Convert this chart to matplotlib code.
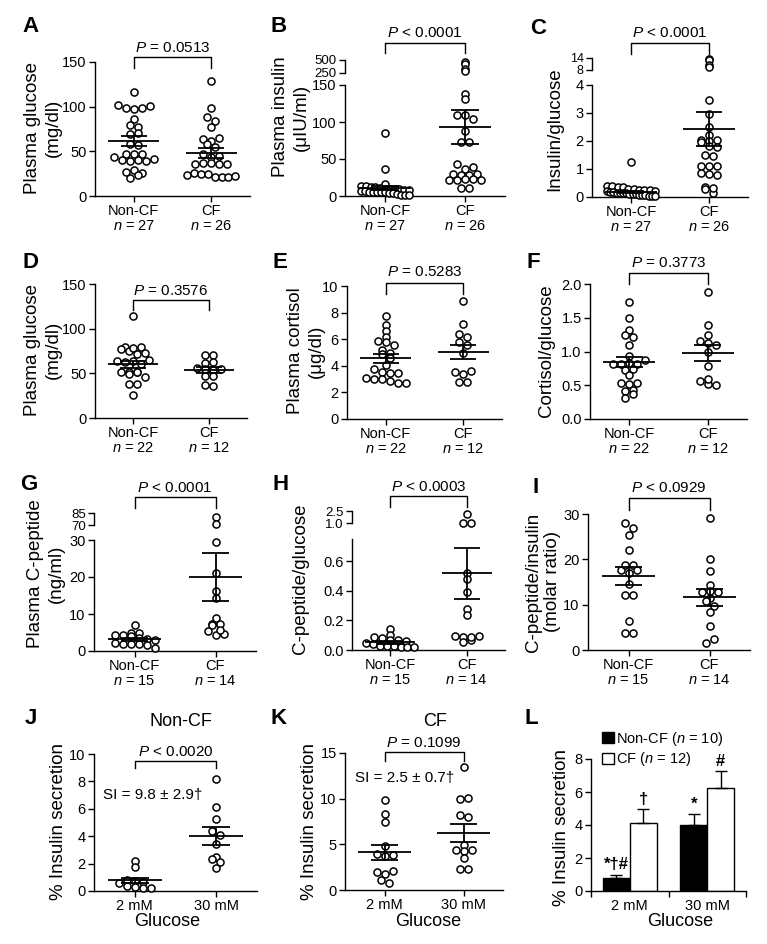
import numpy as np
import matplotlib.pyplot as plt
from matplotlib.lines import Line2D
from matplotlib.patches import Patch

plt.rcParams['font.family'] = 'Liberation Sans'
plt.rcParams['mathtext.fontset'] = 'custom'
plt.rcParams['mathtext.rm'] = 'Liberation Sans'
plt.rcParams['mathtext.it'] = 'Liberation Sans:italic'

# ---- data ----
a_noncf = [116, 102, 99, 97, 99, 101, 86, 79, 77, 69, 70, 58, 57, 47, 44, 47, 47,
           40, 39, 40, 39, 41, 27, 29, 26, 20, 23]
a_cf = [129, 99, 88, 84, 77, 64, 62, 65, 58, 55, 47, 44, 45, 36, 37, 37, 36, 36,
        24, 26, 25, 25, 21, 21, 21, 22]
a_mean, a_sem = [61.2, 48.1], [5.6, 5.5]

b_noncf = [84.5, 36, 16, 14, 13, 12, 12, 11, 10, 10, 9, 9, 8, 8, 7, 7, 6, 6, 6,
           5, 5, 4, 4, 3, 2, 2, 1]
b_cf = [470, 430, 330, 290, 138, 131, 110, 110, 104, 88, 73, 73, 43, 37, 39, 30,
        28, 29, 30, 21, 21, 23, 23, 21, 11, 11]
b_mean, b_sem = [10.8, 93.5], [3.3, 23]

c_noncf = [1.25, 0.38, 0.38, 0.36, 0.35, 0.30, 0.28, 0.26, 0.25, 0.24, 0.22, 0.2,
           0.19, 0.18, 0.16, 0.15, 0.14, 0.13, 0.12, 0.1, 0.09, 0.08, 0.07, 0.06,
           0.05, 0.04, 0.03]
c_cf = [13.5, 12.8, 10.5, 9.5, 3.45, 2.95, 2.5, 2.2, 2.05, 2.0, 1.95, 2.03, 1.82,
        1.8, 1.5, 1.48, 1.12, 1.1, 1.1, 0.85, 0.82, 0.78, 0.35, 0.3, 0.15, 0.33]
c_mean, c_sem = [0.18, 2.42], [0.05, 0.61]

d_noncf = [114, 79, 77, 75, 78, 80, 72, 73, 64, 63, 64, 60, 65, 52, 51, 52, 49,
           51, 46, 38, 38, 26]
d_cf = [70, 70, 62, 63, 56, 55, 54, 55, 47, 47, 37, 36]
d_mean, d_sem = [60, 53.5], [4.2, 3.3]

e_noncf = [7.75, 7.1, 6.6, 6.15, 5.9, 5.8, 5.55, 5.2, 5.0, 4.85, 4.55, 4.05, 3.75,
           3.5, 3.45, 3.45, 3.05, 3.0, 3.0, 2.85, 2.7, 2.7]
e_cf = [8.85, 7.15, 6.4, 6.15, 5.8, 5.6, 5.0, 3.55, 3.4, 3.6, 2.8, 2.8]
e_mean, e_sem = [4.55, 5.05], [0.33, 0.55]

f_noncf = [1.74, 1.5, 1.32, 1.25, 1.21, 1.09, 0.93, 0.82, 0.82, 0.83, 0.82, 0.87,
           0.73, 0.74, 0.65, 0.54, 0.52, 0.54, 0.42, 0.43, 0.31, 0.37]
f_cf = [1.88, 1.39, 1.25, 1.15, 1.13, 1.1, 1.0, 0.78, 0.57, 0.52, 0.51, 0.6]
f_mean, f_sem = [0.84, 0.975], [0.075, 0.12]

g_noncf = [6.9, 4.9, 4.8, 4.3, 4.2, 4.0, 3.5, 3.3, 3.0, 2.2, 2.0, 2.0, 1.8, 1.7, 0.9]
g_cf = [80, 71, 29.5, 21.1, 16.2, 14.2, 9.0, 7.2, 7.0, 7.3, 5.4, 4.2, 4.6, 5.8]
g_mean, g_sem = [3.15, 20.0], [0.45, 6.6]

h_noncf = [0.14, 0.10, 0.09, 0.08, 0.07, 0.07, 0.06, 0.05, 0.04, 0.03, 0.03,
           0.025, 0.02, 0.02, 0.02]
h_cf = [2.1, 1.05, 1.0, 0.52, 0.48, 0.39, 0.28, 0.235, 0.095, 0.09, 0.055, 0.067,
        0.09, 0.097]
h_mean, h_sem = [0.052, 0.517], [0.009, 0.175]

i_noncf = [28.1, 27.0, 25.4, 22.0, 17.7, 18.8, 18.8, 16.9, 17.7, 14.6, 12.2, 12.2,
           6.4, 3.8, 3.8]
i_cf = [29.1, 20.1, 17.5, 14.4, 12.9, 13.0, 12.9, 11.5, 10.7, 9.6, 8.3, 5.2, 1.6, 2.4]
i_mean, i_sem = [16.4, 11.6], [2.0, 1.9]

j_2mm = [2.2, 1.75, 0.8, 0.75, 0.65, 0.6, 0.4, 0.3, 0.25, 0.25]
j_30mm = [8.17, 6.1, 5.25, 4.35, 4.1, 3.4, 2.5, 2.35, 2.1, 1.7]
j_mean, j_sem = [0.78, 4.0], [0.2, 0.65]

k_2mm = [9.9, 8.3, 7.46, 4.84, 3.93, 3.75, 3.82, 2.0, 1.75, 2.07, 1.09, 0.73]
k_30mm = [13.47, 10.0, 10.1, 8.2, 8.0, 4.9, 4.37, 4.26, 4.37, 3.46, 2.26, 2.26]
k_mean, k_sem = [4.11, 6.26], [0.85, 1.0]

# panel L summarises J and K
l_groups = ['2 mM', '30 mM']
l_marks_noncf = ['*†#', '*']
l_marks_cf = ['†', '#']

W, H = 767, 944
fig = plt.figure(figsize=(W / 100, H / 100), dpi=100)


def add_ax(l, t, r, b):
    return fig.add_axes([l / W, 1 - b / H, (r - l) / W, (b - t) / H])


def style(ax):
    for s in ['top', 'right']:
        ax.spines[s].set_visible(False)
    for s in ['left', 'bottom']:
        ax.spines[s].set_linewidth(1.0)
    ax.tick_params(width=1.0, length=4, labelsize=10.5, pad=2)
    ax.patch.set_visible(False)


def rows(vals, ppu, d=8.0, h=5.0, maxhw=24.0):
    # prism-like scatter: points grouped in rows, rows squeezed if too wide
    ys = np.asarray(vals, float) * ppu
    xs = np.zeros(len(ys))
    bins = []
    for i in np.argsort(ys, kind='stable'):
        if bins and ys[i] - ys[bins[-1][0]] < h:
            bins[-1].append(i)
        else:
            bins.append([i])
    for bn in bins:
        bn = sorted(bn)
        n = len(bn)
        s = d if n == 1 else min(d, 2 * maxhw / (n - 1))
        for k, i in enumerate(bn):
            xs[i] = (k - (n - 1) / 2) * s
    return xs


def dots(ax, i, vals, yppu, xppu):
    vals = np.asarray(vals, float)
    if len(vals) == 0:
        return
    xs = rows(vals, yppu) / xppu
    ax.scatter(i + xs, vals, s=26, facecolor='white', edgecolor='black',
               linewidth=1.1, zorder=3, clip_on=False)


def dot_panel(box, groups, mean, sem, ylim, yticks, fmt, cats, top=None):
    l, t, r, b = box
    ax = add_ax(l, t, r, b)
    style(ax)
    ax.set_xlim(-0.5, 1.5)
    ax.set_ylim(*ylim)
    ax.set_yticks(yticks)
    ax.set_yticklabels([fmt % v for v in yticks])
    ax.set_xticks([0, 1])
    ax.set_xticklabels(cats, linespacing=1.1)
    xppu = (r - l) / 2
    yppu = (b - t) / (ylim[1] - ylim[0])
    if top:
        lo, hi, tt, tb, tfmt, tsize = top
        axt = add_ax(l, tt, r, tb)
        style(axt)
        axt.tick_params(labelsize=tsize)
        axt.spines['bottom'].set_visible(False)
        axt.set_xlim(-0.5, 1.5)
        axt.set_ylim(lo, hi)
        axt.set_xticks([])
        axt.set_yticks([lo, hi])
        axt.set_yticklabels([tfmt % lo, tfmt % hi])
        tppu = (tb - tt) / (hi - lo)
    for i, vals in enumerate(groups):
        v = np.asarray(vals, float)
        if top:
            dots(ax, i, v[v <= ylim[1]], yppu, xppu)
            dots(axt, i, v[v > ylim[1]], tppu * 6, xppu)
        else:
            dots(ax, i, v, yppu, xppu)
        m, s = mean[i], sem[i]
        kw = dict(color='black', lw=1.3, zorder=4, clip_on=False)
        ax.hlines(m, i - 0.33, i + 0.33, **kw)
        ax.hlines([m - s, m + s], i - 0.17, i + 0.17, **kw)
        ax.vlines(i, m - s, m + s, **kw)
    return ax


def bracket(box, text, ty, by, ly):
    l, t, r, b = box
    x0, x1 = l + 0.25 * (r - l), l + 0.75 * (r - l)
    fig.add_artist(Line2D([x0 / W, x0 / W, x1 / W, x1 / W],
                          [1 - ly / H, 1 - by / H, 1 - by / H, 1 - ly / H],
                          color='black', lw=1.0, transform=fig.transFigure))
    fig.text((x0 + x1) / 2 / W, 1 - ty / H, text, ha='center', va='center', fontsize=11)


def ylab(x, y, text, ls=1.25):
    fig.text(x / W, 1 - y / H, text, rotation=90, ha='center', va='center',
             fontsize=13.5, linespacing=ls, multialignment='center')


def letter(x, y, s):
    fig.text(x / W, 1 - y / H, s, ha='left', va='center', fontsize=16, fontweight='bold')


def cats(n1, n2):
    return ['Non-CF\n$n$ = %d' % n1, 'CF\n$n$ = %d' % n2]


# ---- row 1 ----
box = (95, 62, 250, 196)
dot_panel(box, [a_noncf, a_cf], a_mean, a_sem, (0, 150), [0, 50, 100, 150], '%d',
          cats(len(a_noncf), len(a_cf)))
bracket(box, '$P$ = 0.0513', 48, 57, 68)
ylab(43, 128, 'Plasma glucose\n(mg/dl)')
letter(22, 27, 'A')

box = (345, 85, 505, 196)
dot_panel(box, [b_noncf, b_cf], b_mean, b_sem, (0, 150), [0, 50, 100, 150], '%d',
          cats(len(b_noncf), len(b_cf)), top=(250, 500, 60, 72.5, '%d', 9.5))
bracket(box, '$P$ < 0.0001', 33, 43, 53)
ylab(291, 117, 'Plasma insulin\n(μIU/ml)')
letter(270, 27, 'B')

box = (592, 85, 748, 197)
dot_panel(box, [c_noncf, c_cf], c_mean, c_sem, (0, 4), [0, 1, 2, 3, 4], '%d',
          cats(len(c_noncf), len(c_cf)), top=(8, 14, 58, 70, '%d', 9))
bracket(box, '$P$ < 0.0001', 33, 43, 54)
ylab(555, 129, 'Insulin/glucose')
letter(530, 28, 'C')

# ---- row 2 ----
box = (95, 284, 247, 418)
dot_panel(box, [d_noncf, d_cf], d_mean, d_sem, (0, 150), [0, 50, 100, 150], '%d',
          cats(len(d_noncf), len(d_cf)))
bracket(box, '$P$ = 0.3576', 291, 300, 310)
ylab(43, 350, 'Plasma glucose\n(mg/dl)')
letter(22, 262, 'D')

box = (347, 286, 502, 419)
dot_panel(box, [e_noncf, e_cf], e_mean, e_sem, (0, 10), [0, 2, 4, 6, 8, 10], '%d',
          cats(len(e_noncf), len(e_cf)))
bracket(box, '$P$ = 0.5283', 272, 283, 294)
ylab(306, 351, 'Plasma cortisol\n(μg/dl)')
letter(272, 262, 'E')

box = (590, 284, 747, 419)
dot_panel(box, [f_noncf, f_cf], f_mean, f_sem, (0, 2), [0, 0.5, 1, 1.5, 2], '%.1f',
          cats(len(f_noncf), len(f_cf)))
bracket(box, '$P$ = 0.3773', 263, 273, 284)
ylab(547, 351, 'Cortisol/glucose')
letter(527, 262, 'F')

# ---- row 3 ----
box = (94, 540, 256, 651)
dot_panel(box, [g_noncf, g_cf], g_mean, g_sem, (0, 30), [0, 10, 20, 30], '%d',
          cats(len(g_noncf), len(g_cf)), top=(70, 85, 513, 525, '%d', 9.5))
bracket(box, '$P$ < 0.0001', 488, 497, 508)
ylab(46, 574, 'Plasma C-peptide\n(ng/ml)')
letter(20, 485, 'G')

box = (352, 539, 505, 650)
dot_panel(box, [h_noncf, h_cf], h_mean, h_sem, (0, 0.75), [0, 0.2, 0.4, 0.6], '%.1f',
          cats(len(h_noncf), len(h_cf)), top=(1.0, 2.5, 511, 523, '%.1f', 9.5))
bracket(box, '$P$ < 0.0003', 487, 496, 507)
ylab(300, 579, 'C-peptide/glucose')
letter(272, 485, 'H')

box = (588, 514, 750, 650)
dot_panel(box, [i_noncf, i_cf], i_mean, i_sem, (0, 30), [0, 10, 20, 30], '%d',
          cats(len(i_noncf), len(i_cf)))
bracket(box, '$P$ < 0.0929', 488, 498, 510)
ylab(543, 582, 'C-peptide/insulin\n(molar ratio)', ls=1.1)
letter(533, 488, 'I')

# ---- row 4 ----
box = (94, 754, 257, 891)
dot_panel(box, [j_2mm, j_30mm], j_mean, j_sem, (0, 10), [0, 2, 4, 6, 8, 10], '%d',
          l_groups)
bracket(box, '$P$ < 0.0020', 752, 761, 768)
fig.text(103 / W, 1 - 795 / H, 'SI = 9.8 ± 2.9†', ha='left', va='center', fontsize=11)
fig.text(181 / W, 1 - 721 / H, 'Non-CF', ha='center', va='center', fontsize=13)
fig.text(167 / W, 1 - 922 / H, 'Glucose', ha='center', va='center', fontsize=13)
ylab(59, 822, '% Insulin secretion')
letter(25, 718, 'J')

box = (345, 753, 503, 890)
dot_panel(box, [k_2mm, k_30mm], k_mean, k_sem, (0, 15), [0, 5, 10, 15], '%d',
          l_groups)
bracket(box, '$P$ = 0.1099', 743, 752, 761)
fig.text(355 / W, 1 - 778 / H, 'SI = 2.5 ± 0.7†', ha='left', va='center', fontsize=11)
fig.text(435 / W, 1 - 721 / H, 'CF', ha='center', va='center', fontsize=13)
fig.text(428 / W, 1 - 922 / H, 'Glucose', ha='center', va='center', fontsize=13)
ylab(309, 822, '% Insulin secretion')
letter(270, 718, 'K')

# ---- L: bar chart ----
ax = add_ax(591, 759, 746, 891)
style(ax)
ax.set_xlim(-0.5, 1.5)
ax.set_ylim(0, 8)
ax.set_yticks([0, 2, 4, 6, 8])
x = np.arange(2)
wd = 0.35
ax.bar(x - wd / 2, j_mean, wd, color='black', edgecolor='black', lw=1.0, zorder=2)
ax.bar(x + wd / 2, k_mean, wd, color='white', edgecolor='black', lw=1.0, zorder=2)
ax.errorbar(x - wd / 2, j_mean, yerr=[[0, 0], j_sem], fmt='none', ecolor='black',
            elinewidth=1.0, capsize=4, capthick=1.0, zorder=3)
ax.errorbar(x + wd / 2, k_mean, yerr=[[0, 0], k_sem], fmt='none', ecolor='black',
            elinewidth=1.0, capsize=4, capthick=1.0, zorder=3)
ax.set_xticks(x)
ax.set_xticklabels(l_groups)
ax.tick_params(axis='x', which='major', length=0, pad=6)
ax.set_xticks([-0.5, 0.5, 1.5], minor=True)
ax.tick_params(axis='x', which='minor', length=4, width=1.0)
for xi, m, s, t in zip(x - wd / 2, j_mean, j_sem, l_marks_noncf):
    ax.text(xi, m + s + 0.15, t, ha='center', va='bottom', fontsize=12, fontweight='bold')
for xi, m, s, t in zip(x + wd / 2, k_mean, k_sem, l_marks_cf):
    ax.text(xi, m + s + 0.15, t, ha='center', va='bottom', fontsize=12, fontweight='bold')
handles = [Patch(facecolor='black', edgecolor='black'),
           Patch(facecolor='white', edgecolor='black')]
ax.legend(handles, ['Non-CF ($n$ = %d)' % len(j_2mm), 'CF ($n$ = %d)' % len(k_2mm)],
          loc='upper left', bbox_to_anchor=(0.07, 1.22), frameon=False, fontsize=10.5,
          handlelength=0.8, handleheight=0.8, handletextpad=0.2, labelspacing=0.15,
          borderpad=0, borderaxespad=0)
fig.text(680 / W, 1 - 922 / H, 'Glucose', ha='center', va='center', fontsize=13)
ylab(562, 828, '% Insulin secretion')
letter(525, 718, 'L')

fig.savefig('out.png', dpi=100)
